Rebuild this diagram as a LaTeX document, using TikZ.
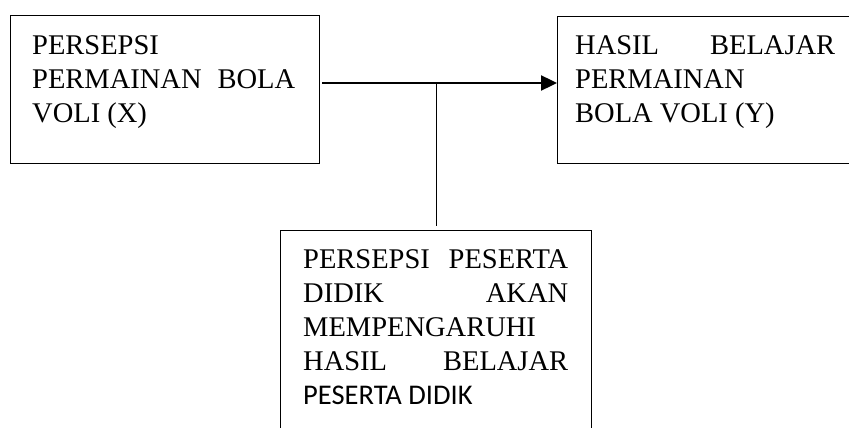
\documentclass[tikz,border=0pt]{standalone}
\usepackage{fontspec}
\setmainfont{Liberation Serif}
\newfontfamily\carlito{Carlito}
\usetikzlibrary{arrows.meta}

\tikzset{
  framebox/.style={draw=black, line width=1.3pt, rectangle, inner sep=0pt, anchor=north west},
  boxtext/.style={inner sep=0pt, anchor=base west},
  mainline/.style={line width=2.4pt},
  linkline/.style={line width=1.8pt}
}
\newcommand{\boxfont}{\fontsize{28.5}{34}\selectfont}

\begin{document}
\begin{tikzpicture}[x=1pt, y=-1pt]
  \useasboundingbox (0,0) rectangle (849,428);
  \clip (0,0) rectangle (849,428);

  % frames
  \node[framebox, minimum width=309pt, minimum height=148pt] (boxX) at (10,15) {};
  \node[framebox, minimum width=320pt, minimum height=147pt] (boxY) at (557,16) {};
  \node[framebox, minimum width=311pt, minimum height=240pt] (boxZ) at (280,230) {};

  % texts
  \node[boxtext] (tX) at (32,55) {\parbox[t]{263pt}{\boxfont
    PERSEPSI\\
    PERMAINAN\hfill BOLA\\
    VOLI (X)}};
  \node[boxtext] (tY) at (575,55) {\parbox[t]{260pt}{\boxfont
    HASIL\hfill BELAJAR\\
    PERMAINAN\\
    BOLA VOLI (Y)}};
  \node[boxtext] (tZ) at (303,268) {\parbox[t]{265pt}{\boxfont
    PERSEPSI\hfill PESERTA\\
    DIDIK\hfill AKAN\\
    MEMPENGARUHI\\
    HASIL\hfill BELAJAR\\
    {\carlito\fontsize{28.5}{34}\selectfont PESERTA DIDIK}}};

  % connectors
  \coordinate (j) at (436.5,83);
  \draw[mainline, -{Triangle[length=16pt,width=15pt]}, shorten <=2pt]
    (boxX.east |- j) -- (boxY.west |- j);
  \draw[linkline, shorten >=4pt] (j) -- (boxZ.north -| j);
\end{tikzpicture}
\end{document}
